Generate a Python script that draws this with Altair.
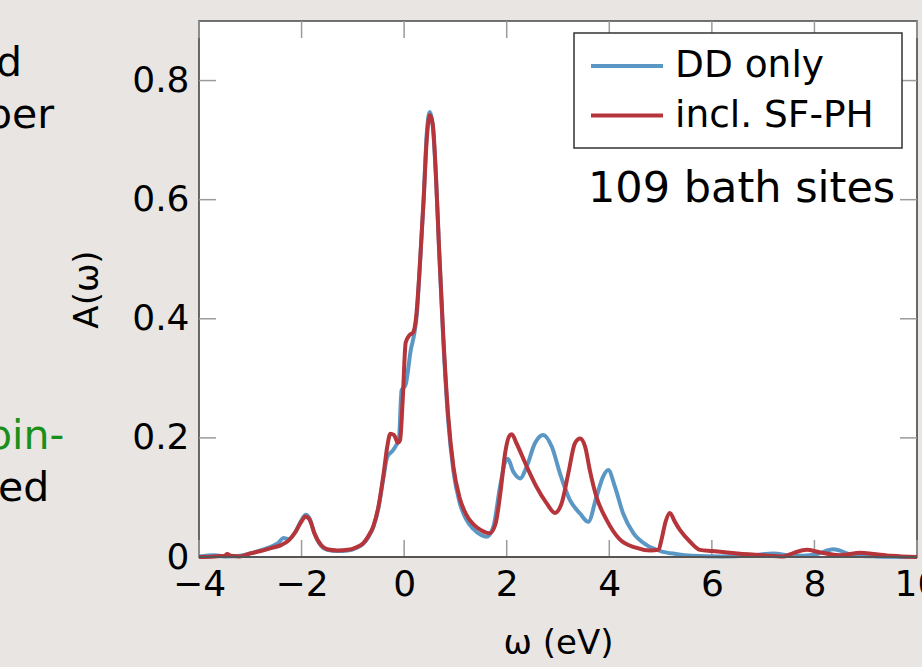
import altair as alt
import pandas as pd

# ---------------- data ----------------
omega_dd = [-4.0, -3.7, -3.5, -3.2, -3.0, -2.8, -2.6, -2.45, -2.35, -2.25, -2.12, -2.0, -1.92,
            -1.84, -1.75, -1.62, -1.5, -1.3, -1.1, -0.94, -0.8, -0.7, -0.6, -0.5, -0.4, -0.33,
            -0.21, -0.1, -0.05, 0.0, 0.03, 0.13, 0.2, 0.25, 0.3, 0.38, 0.44, 0.5, 0.55, 0.62,
            0.68, 0.76, 0.86, 0.96, 1.08, 1.2, 1.35, 1.5, 1.61, 1.74, 1.87, 1.97, 2.02, 2.13,
            2.26, 2.39, 2.55, 2.71, 2.88, 3.04, 3.23, 3.43, 3.59, 3.75, 3.88, 3.98, 4.11, 4.27,
            4.47, 4.73, 5.0, 5.3, 5.6, 6.2, 6.8, 7.2, 7.6, 8.0, 8.37, 8.76, 9.2, 10.0]
a_dd = [0.001, 0.003, 0.001, 0.002, 0.006, 0.011, 0.017, 0.024, 0.032, 0.030, 0.042, 0.062, 0.071,
        0.064, 0.040, 0.019, 0.012, 0.010, 0.011, 0.015, 0.022, 0.033, 0.050, 0.083, 0.135, 0.168,
        0.180, 0.200, 0.280, 0.285, 0.290, 0.348, 0.376, 0.410, 0.480, 0.600, 0.710, 0.747, 0.730, 0.640,
        0.520, 0.370, 0.228, 0.145, 0.092, 0.065, 0.047, 0.037, 0.034, 0.051, 0.118, 0.160, 0.165, 0.143,
        0.132, 0.152, 0.191, 0.205, 0.185, 0.140, 0.096, 0.073, 0.059, 0.101, 0.135, 0.146, 0.118, 0.073,
        0.040, 0.020, 0.010, 0.005, 0.002, 0.001, 0.003, 0.006, 0.002, 0.004, 0.013, 0.003, 0.001, 0.0]

omega_sf = [-4.0, -3.7, -3.5, -3.45, -3.38, -3.2, -3.0, -2.8, -2.6, -2.4, -2.25, -2.12, -2.0, -1.92,
            -1.84, -1.75, -1.62, -1.5, -1.3, -1.1, -0.94, -0.8, -0.7, -0.6, -0.5, -0.4, -0.33, -0.27,
            -0.2, -0.12, -0.08, -0.03, 0.03, 0.1, 0.18, 0.23, 0.3, 0.38, 0.44, 0.5, 0.56, 0.62, 0.68,
            0.76, 0.86, 0.96, 1.08, 1.2, 1.35, 1.5, 1.67, 1.78, 1.88, 1.97, 2.05, 2.1, 2.19, 2.39,
            2.58, 2.78, 2.94, 3.07, 3.2, 3.33, 3.43, 3.53, 3.62, 3.75, 3.95, 4.2, 4.5, 4.8, 4.96,
            5.02, 5.1, 5.18, 5.28, 5.38, 5.57, 5.77, 6.0, 6.5, 7.0, 7.4, 7.6, 7.85, 8.1, 8.5, 8.9,
            9.15, 9.5, 10.0]
a_sf = [0.0, 0.001, 0.002, 0.005, 0.002, 0.001, 0.006, 0.010, 0.015, 0.020, 0.028, 0.042, 0.060, 0.068,
        0.062, 0.040, 0.020, 0.013, 0.011, 0.012, 0.016, 0.023, 0.035, 0.052, 0.085, 0.140, 0.185, 0.207,
        0.205, 0.192, 0.196, 0.260, 0.360, 0.372, 0.378, 0.400, 0.480, 0.600, 0.700, 0.742, 0.725, 0.640, 0.520,
        0.376, 0.236, 0.152, 0.100, 0.073, 0.055, 0.045, 0.040, 0.055, 0.110, 0.175, 0.203, 0.206, 0.191, 0.152,
        0.118, 0.090, 0.074, 0.090, 0.140, 0.191, 0.199, 0.185, 0.146, 0.101, 0.062, 0.030, 0.016, 0.011, 0.012,
        0.030, 0.060, 0.074, 0.059, 0.045, 0.026, 0.012, 0.010, 0.006, 0.003, 0.001, 0.007, 0.012, 0.008, 0.003, 0.007,
        0.005, 0.002, 0.0]

series_names = ["DD only", "incl. SF-PH"]
series_colors = ["#5b97c5", "#b5353b"]
x_ticks = [-4, -2, 0, 2, 4, 6, 8, 10]
y_ticks = [0, 0.2, 0.4, 0.6, 0.8]
x_domain = [-4, 10]
y_domain = [0, 0.9]
x_title = "ω (eV)"
y_title = "A(ω)"
annotation = "109 bath sites"
side_text = ["d", "per", "pin-", "ed"]
side_colors = ["black", "black", "#1a8f1a", "black"]

# ---------------- layout ----------------
W, H = 718, 536
FONT = "DejaVu Sans"
TICK = 17
TICK_COLOR = "#9a9a9a"

xs = alt.Scale(domain=x_domain, nice=False, zero=False)
ys = alt.Scale(domain=y_domain, nice=False, zero=False)

x_axis = alt.Axis(values=x_ticks, format="d", title=x_title, ticks=False, tickSize=0, domain=False,
                  grid=False, labelFontSize=36, labelPadding=10, labelFlush=False, labelOverlap=False,
                  titleFontSize=34, titlePadding=24, labelFont=FONT, titleFont=FONT,
                  titleFontWeight="normal", labelColor="black", titleColor="black")
y_axis = alt.Axis(values=y_ticks, format=".1~f", title=y_title, ticks=False, tickSize=0, domain=False,
                  grid=False, labelFontSize=36, labelPadding=10, labelOverlap=False,
                  titleFontSize=34, titlePadding=27, labelFont=FONT, titleFont=FONT,
                  titleFontWeight="normal", labelColor="black", titleColor="black")

dd = pd.DataFrame({"omega": omega_dd, "A": a_dd})
sf = pd.DataFrame({"omega": omega_sf, "A": a_sf})


def curve(df, color):
    return alt.Chart(df).mark_line(color=color, strokeWidth=4, interpolate="monotone").encode(
        x=alt.X("omega:Q", scale=xs, axis=x_axis),
        y=alt.Y("A:Q", scale=ys, axis=y_axis),
    )


xt = pd.DataFrame({"omega": x_ticks})
yt = pd.DataFrame({"A": y_ticks})
rule = dict(color=TICK_COLOR, strokeWidth=1.5)

bottom_ticks = alt.Chart(xt).mark_rule(**rule).encode(
    x=alt.X("omega:Q", scale=xs, axis=x_axis), y=alt.value(H), y2=alt.value(H - TICK))
top_ticks = alt.Chart(xt).mark_rule(**rule).encode(
    x=alt.X("omega:Q", scale=xs, axis=x_axis), y=alt.value(0), y2=alt.value(TICK))
left_ticks = alt.Chart(yt).mark_rule(**rule).encode(
    y=alt.Y("A:Q", scale=ys, axis=y_axis), x=alt.value(0), x2=alt.value(TICK))
right_ticks = alt.Chart(yt).mark_rule(**rule).encode(
    y=alt.Y("A:Q", scale=ys, axis=y_axis), x=alt.value(W), x2=alt.value(W - TICK))

one = pd.DataFrame({"k": [0]})

# darker bottom axis line
bottom_line = alt.Chart(one).mark_rule(color="#555555", strokeWidth=2.2).encode(
    x=alt.value(0), x2=alt.value(W), y=alt.value(H))


def label(txt, x, y, size, color="black", align="left"):
    return alt.Chart(one).mark_text(text=txt, font=FONT, fontSize=size, color=color, align=align,
                                    baseline="alphabetic").encode(x=alt.value(x), y=alt.value(y))


# legend (manual, pgfplots style)
legend_box = alt.Chart(one).mark_rect(fill="white", stroke="#333333", strokeWidth=1.5).encode(
    x=alt.value(375), x2=alt.value(703), y=alt.value(12), y2=alt.value(127))
legend_layers = [legend_box]
for i, (name, col) in enumerate(zip(series_names, series_colors)):
    yy = 45 + i * 49.6
    legend_layers.append(alt.Chart(one).mark_rule(color=col, strokeWidth=4).encode(
        x=alt.value(392), x2=alt.value(464), y=alt.value(yy)))
    legend_layers.append(label(name, 476, yy + 11, 37.5))

ann = label(annotation, 389, 181, 43)

side_x = [-203, -213, -213, -201]
side_y = [55, 107, 428, 480]
side_layers = [label(t, sx, sy, 41, c) for t, sx, sy, c in zip(side_text, side_x, side_y, side_colors)]

chart = alt.layer(
    bottom_ticks, top_ticks, left_ticks, right_ticks,
    curve(dd, series_colors[0]), curve(sf, series_colors[1]), bottom_line,
    *legend_layers, ann, *side_layers,
).properties(
    width=W, height=H,
    autosize=alt.AutoSizeParams(type="none"),
    padding={"left": 199, "top": 21, "right": 5, "bottom": 110},
    background="#e8e5e2",
).configure_view(stroke="#454545", strokeWidth=1.6, fill="white")

chart.save("out.html", embed_options={"renderer": "svg", "actions": False})
